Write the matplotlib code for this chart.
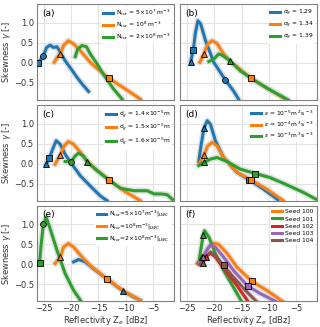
import matplotlib.pyplot as plt

# ---------------- data ----------------
# (a) N_tor
a_x = [[-26.0, -25.7, -25.1, -24.5, -23.85, -23.25, -22.6, -22.0, -21.1, -20.2, -18.9, -18.0, -16.8],
       [-23.1, -22.6, -22.0, -21.4, -20.5, -19.55, -18.3, -16.5, -14.6, -13.1, -10.35, -7.3],
       [-19.25, -18.8, -18.0, -17.2, -16.5, -15.25, -13.7, -12.2, -10.65]]
a_y = [[0.0, 0.05, 0.18, 0.38, 0.44, 0.38, 0.40, 0.26, 0.05, -0.12, -0.37, -0.53, -0.72],
       [0.01, 0.13, 0.23, 0.43, 0.55, 0.47, 0.30, 0.01, -0.22, -0.39, -0.63, -0.91],
       [0.15, 0.34, 0.43, 0.40, 0.22, -0.03, -0.37, -0.66, -0.91]]
a_labels = ['N$_{tor}$ = 5×10$^{7}$ m$^{-3}$', 'N$_{tor}$ = 10$^{8}$ m$^{-3}$',
            'N$_{tor}$ = 2×10$^{8}$ m$^{-3}$']
a_mk = [(0, 's', -26.0, 0.0), (0, 'o', -25.1, 0.18), (1, '^', -22.0, 0.23), (1, 's', -13.1, -0.39)]

# (b) sigma_g
b_x = [[-24.35, -23.85, -23.45, -23.0, -22.5, -21.6, -20.1, -17.98, -16.5, -15.55],
       [-22.65, -21.9, -21.2, -20.4, -19.5, -18.3, -17.05, -13.25, -10.4, -7.35],
       [-21.0, -20.1, -19.2, -18.6, -17.1, -15.25, -13.25, -10.4, -6.45]]
b_y = [[0.01, 0.32, 0.76, 1.05, 0.97, 0.55, 0.01, -0.43, -0.70, -0.91],
       [0.01, 0.23, 0.47, 0.55, 0.48, 0.22, 0.03, -0.39, -0.63, -0.88],
       [0.03, 0.09, 0.22, 0.19, 0.05, -0.20, -0.39, -0.63, -0.93]]
b_labels = [r'$\sigma_g$ = 1.29', r'$\sigma_g$ = 1.34', r'$\sigma_g$ = 1.39']
b_mk = [(0, '^', -24.35, 0.01), (0, 's', -23.85, 0.32), (0, 'o', -17.98, -0.43),
        (1, '^', -21.9, 0.23), (1, 's', -13.25, -0.39), (2, '^', -17.1, 0.05)]

# (c) d_g
c_x = [[-24.6, -23.98, -23.5, -22.75, -22.0, -21.1, -19.85, -18.3, -16.5, -14.65, -13.4],
       [-22.95, -22.0, -21.3, -20.5, -19.55, -18.3, -16.5, -13.1, -10.35, -7.3],
       [-21.1, -19.98, -19.25, -18.65, -17.8, -17.1, -15.25, -13.1, -10.95, -8.5, -6.05,
        -4.8, -3.5, -2.4, -1.4]]
c_y = [[-0.02, 0.13, 0.32, 0.57, 0.48, 0.23, -0.02, -0.31, -0.56, -0.81, -0.93],
       [-0.02, 0.22, 0.44, 0.55, 0.48, 0.28, -0.02, -0.41, -0.68, -0.93],
       [0.05, 0.05, 0.19, 0.26, 0.19, 0.05, -0.18, -0.41, -0.62, -0.68, -0.68,
        -0.76, -0.76, -0.78, -0.90]]
c_labels = ['d$_g$ = 1.4×10$^{-5}$m', 'd$_g$ = 1.5×10$^{-5}$m', 'd$_g$ = 1.6×10$^{-5}$m']
c_mk = [(0, '^', -24.6, -0.02), (0, 's', -23.98, 0.13), (1, '^', -22.0, 0.22),
        (1, 's', -13.1, -0.41), (2, 'o', -19.98, 0.05), (2, '^', -17.1, 0.05)]

# (d) epsilon
d_x = [[-22.85, -22.4, -21.9, -21.3, -20.7, -19.8, -18.3, -15.85, -13.55, -11.0, -8.3],
       [-22.85, -21.9, -21.2, -20.4, -19.5, -18.3, -15.85, -13.25, -10.4, -7.35],
       [-22.85, -21.9, -20.7, -19.5, -17.65, -15.25, -12.5, -9.8, -6.75, -3.7, -1.4]]
d_y = [[0.05, 0.48, 0.88, 1.07, 0.98, 0.57, 0.15, -0.22, -0.41, -0.64, -0.91],
       [-0.02, 0.22, 0.44, 0.53, 0.44, 0.15, -0.22, -0.41, -0.64, -0.93],
       [-0.05, 0.03, 0.11, 0.15, 0.05, -0.14, -0.25, -0.35, -0.53, -0.72, -0.89]]
d_labels = [r'$\epsilon$ = 10$^{-5}$m $^{2}$s $^{-3}$', r'$\epsilon$ = 10$^{-4}$m $^{2}$s $^{-3}$',
            r'$\epsilon$ = 10$^{-3}$m $^{2}$s $^{-3}$']
d_mk = [(0, '^', -21.9, 0.88), (0, 's', -13.55, -0.41), (1, '^', -21.9, 0.22),
        (1, 's', -13.25, -0.41), (2, '^', -21.9, 0.03), (2, 's', -12.5, -0.25)]

# (e) N_tor at fixed LWC
e_x = [[-19.55, -18.65, -17.4, -15.9, -13.5, -10.45, -8.5, -7.3],
       [-22.95, -22.0, -21.4, -20.5, -19.55, -18.0, -16.5, -13.5, -10.35, -7.3],
       [-25.8, -25.55, -25.1, -24.6, -23.85, -22.6, -21.1, -19.55, -18.3]]
e_y = [[0.06, 0.12, 0.06, -0.11, -0.36, -0.67, -0.82, -0.90],
       [0.02, 0.18, 0.43, 0.52, 0.43, 0.18, -0.03, -0.36, -0.67, -0.90],
       [0.02, 0.43, 1.0, 1.18, 0.89, 0.35, -0.23, -0.65, -0.90]]
e_labels = ['N$_{tor}$=5×10$^{7}$m$^{-3}$|$_{LWC}$', 'N$_{tor}$=10$^{8}$m$^{-3}$|$_{LWC}$',
            'N$_{tor}$=2×10$^{8}$m$^{-3}$|$_{LWC}$']
e_mk = [(0, '^', -10.45, -0.67), (1, '^', -22.0, 0.18), (1, 's', -13.5, -0.36),
        (2, 's', -25.8, 0.02), (2, 'o', -25.1, 1.0)]

# (f) random seeds
f_x = [[-23.15, -22.2, -21.0, -20.1, -19.2, -17.65, -15.85, -13.1, -10.4, -7.35],
       [-22.85, -22.05, -21.8, -21.0, -19.8, -18.3, -16.5, -14.95],
       [-22.7, -21.6, -20.7, -19.8, -18.0, -15.85, -13.75],
       [-23.0, -22.05, -21.3, -20.7, -19.8, -18.3, -16.5, -13.9, -11.6, -8.55],
       [-22.7, -22.15, -21.45, -20.7, -19.8, -18.3, -16.5, -14.3, -12.2]]
f_y = [[0.02, 0.18, 0.43, 0.53, 0.50, 0.27, -0.07, -0.43, -0.65, -0.94],
       [0.03, 0.73, 0.84, 0.68, 0.27, -0.15, -0.57, -0.94],
       [0.02, 0.18, 0.28, 0.18, -0.15, -0.53, -0.94],
       [0.02, 0.17, 0.37, 0.49, 0.43, 0.18, -0.15, -0.54, -0.73, -0.94],
       [-0.01, 0.03, 0.20, 0.31, 0.22, -0.03, -0.32, -0.65, -0.94]]
f_labels = ['Seed 100', 'Seed 101', 'Seed 102', 'Seed 103', 'Seed 104']
f_mk = [(0, '^', -22.2, 0.18), (0, 's', -13.1, -0.43), (1, '^', -22.05, 0.73),
        (2, '^', -21.6, 0.18), (3, '^', -22.05, 0.17), (3, 's', -13.9, -0.54),
        (4, '^', -22.15, 0.03), (4, 's', -18.3, -0.03)]

tab3 = ['#1f77b4', '#ff7f0e', '#2ca02c']
tab_seed = ['#ff7f0e', '#2ca02c', '#d62728', '#9467bd', '#8c564b']

panels = [('(a)', a_x, a_y, a_labels, a_mk, tab3),
          ('(b)', b_x, b_y, b_labels, b_mk, tab3),
          ('(c)', c_x, c_y, c_labels, c_mk, tab3),
          ('(d)', d_x, d_y, d_labels, d_mk, tab3),
          ('(e)', e_x, e_y, e_labels, e_mk, tab3),
          ('(f)', f_x, f_y, f_labels, f_mk, tab_seed)]

# ---------------- figure ----------------
fig, axes = plt.subplots(3, 2, sharex=True, sharey=True, figsize=(3.2, 3.27), dpi=100)
fig.subplots_adjust(left=0.115, right=0.99, top=0.988, bottom=0.078, wspace=0.046, hspace=0.05)

for ax, (tag, xs, ys, labels, mks, cols) in zip(axes.flat, panels):
    # grey band behind every curve
    for x, y in zip(xs, ys):
        ax.plot(x, y, color='0.85', lw=4.5, alpha=0.8, solid_capstyle='round', zorder=2)
    for x, y, lab, c in zip(xs, ys, labels, cols):
        ax.plot(x, y, color=c, lw=2.2, label=lab, zorder=3)
    for i, m, mx, my in mks:
        ax.plot(mx, my, marker=m, ms=4.2, mfc=cols[i], mec='k', mew=0.6, ls='none', zorder=4)

    ax.text(0.04, 0.95, tag, transform=ax.transAxes, fontsize=6.5, va='top', ha='left')
    leg = ax.legend(loc='upper right', fontsize=4.3, handlelength=1.6, handletextpad=0.5,
                    labelspacing=0.35, borderpad=0.3, borderaxespad=0.3,
                    frameon=True, framealpha=1.0, edgecolor='white')
    leg.get_frame().set_linewidth(0)

    ax.grid(True, color='#e3e3e3', lw=0.8)
    ax.set_axisbelow(True)
    for s in ax.spines.values():
        s.set_color('0.5')
        s.set_linewidth(0.8)
    ax.tick_params(length=0, labelsize=6, pad=2, labelcolor='#333333')

axes[0, 0].set_xlim(-26.3, -1.2)
axes[0, 0].set_ylim(-0.93, 1.47)
axes[0, 0].set_xticks([-25, -20, -15, -10, -5])
axes[0, 0].set_yticks([-0.5, 0.0, 0.5, 1.0])

for ax in axes[:, 0]:
    ax.set_ylabel('Skewness $\\gamma$ [-]', fontsize=6, labelpad=1, color='#333333')
for ax in axes[2, :]:
    ax.set_xlabel('Reflectivity Z$_e$ [dBz]', fontsize=6, labelpad=0.5, color='#333333')

plt.savefig('out.png', dpi=100)
